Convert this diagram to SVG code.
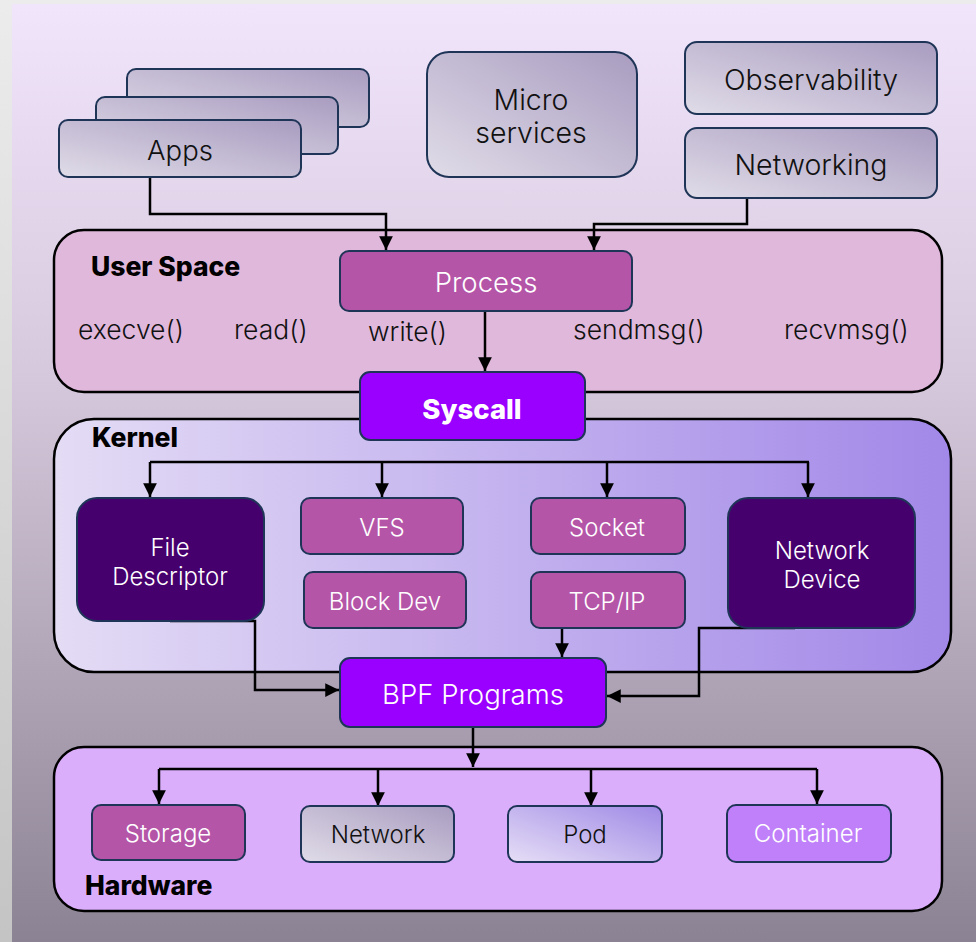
<svg xmlns="http://www.w3.org/2000/svg" width="976" height="942" viewBox="0 0 976 942">
  <defs>
    <linearGradient id="bgStrip" x1="0" y1="0" x2="0" y2="1">
      <stop offset="0" stop-color="#ececec"/>
      <stop offset="1" stop-color="#c4c4c4"/>
    </linearGradient>
    <linearGradient id="bgMain" x1="0" y1="0" x2="0" y2="1">
      <stop offset="0" stop-color="#f1e5fc"/>
      <stop offset="0.4" stop-color="#d6c8dc"/>
      <stop offset="0.75" stop-color="#aba0b2"/>
      <stop offset="1" stop-color="#8b8393"/>
    </linearGradient>
    <linearGradient id="greyBox" x1="0" y1="1" x2="1" y2="0">
      <stop offset="0" stop-color="#e0dce8"/>
      <stop offset="1" stop-color="#a99cc0"/>
    </linearGradient>
    <linearGradient id="lavBox" x1="0" y1="1" x2="1" y2="0">
      <stop offset="0" stop-color="#e6def6"/>
      <stop offset="1" stop-color="#a08ae6"/>
    </linearGradient>
    <linearGradient id="kernelFill" x1="0" y1="0" x2="1" y2="0">
      <stop offset="0" stop-color="#e4dcf5"/>
      <stop offset="1" stop-color="#a288e8"/>
    </linearGradient>
    <marker id="arrow" viewBox="0 0 10 10" refX="10" refY="5" markerWidth="5.5" markerHeight="5.5" orient="auto-start-reverse" markerUnits="strokeWidth">
      <path d="M0,0 L10,5 L0,10 z" fill="#000"/>
    </marker>
    <style>
      .panel { stroke: #000; stroke-width: 2.5; }
      .box { stroke: #1f3557; stroke-width: 2; }
      .magenta { fill: #b455a8; }
      .violet { fill: #9a00ff; }
      .deep { fill: #46006e; }
      .t { font-family: Inter, "Liberation Sans", sans-serif; font-weight: 300; text-anchor: middle; dominant-baseline: central; }
      .dark { fill: #111; }
      .light { fill: #fff; }
      .xl { font-size: 28.5px; }
      .lg { font-size: 27.5px; }
      .md { font-size: 24px; }
      .bold { font-weight: 800; }
      .head { font-family: Inter, "Liberation Sans", sans-serif; font-size: 26.5px; font-weight: 800; fill: #000; }
      .call { font-family: Inter, "Liberation Sans", sans-serif; font-weight: 300; font-size: 26.5px; fill: #111; }
      .wire { fill: none; stroke: #000; stroke-width: 2.5; }
    </style>
  </defs>

  <!-- backdrop -->
  <rect x="0" y="0" width="976" height="942" fill="url(#bgStrip)"/>
  <rect x="12" y="4" width="964" height="938" fill="url(#bgMain)"/>

  <!-- layer panels -->
  <g id="user-space">
    <rect class="panel" x="54" y="230" width="888" height="162" rx="30" fill="#e0b8dc"/>
    <text class="head" x="91" y="276">User Space</text>
    <text class="call" x="78" y="339">execve()</text>
    <text class="call" x="234" y="339">read()</text>
    <text class="call" x="368" y="341">write()</text>
    <text class="call" x="573" y="339">sendmsg()</text>
    <text class="call" x="784" y="339">recvmsg()</text>
  </g>
  <g id="kernel">
    <rect class="panel" x="54" y="419" width="897" height="253" rx="40" fill="url(#kernelFill)"/>
    <text class="head" x="92" y="447">Kernel</text>
  </g>
  <g id="hardware">
    <rect class="panel" x="54" y="747" width="888" height="164" rx="30" fill="#dbaefb"/>
    <text class="head" x="85" y="895">Hardware</text>
  </g>

  <!-- connectors -->
  <g id="connectors">
    <path class="wire" d="M150,177 V214 H386 V250" marker-end="url(#arrow)"/>
    <path class="wire" d="M747,198 V224 H594 V250" marker-end="url(#arrow)"/>
    <path class="wire" d="M485,311 V371" marker-end="url(#arrow)"/>
    <path class="wire" d="M150,462 H809"/>
    <path class="wire" d="M150,462 V497" marker-end="url(#arrow)"/>
    <path class="wire" d="M382,462 V497" marker-end="url(#arrow)"/>
    <path class="wire" d="M607,462 V497" marker-end="url(#arrow)"/>
    <path class="wire" d="M808,462 V497" marker-end="url(#arrow)"/>
    <path class="wire" d="M170,621 H255 V690 H339" marker-end="url(#arrow)"/>
    <path class="wire" d="M562,628 V657" marker-end="url(#arrow)"/>
    <path class="wire" d="M795,628 H699 V696 H607" marker-end="url(#arrow)"/>
    <path class="wire" d="M473,727 V767" marker-end="url(#arrow)"/>
    <path class="wire" d="M159,769 H817"/>
    <path class="wire" d="M159,769 V804" marker-end="url(#arrow)"/>
    <path class="wire" d="M378,769 V806" marker-end="url(#arrow)"/>
    <path class="wire" d="M591,769 V806" marker-end="url(#arrow)"/>
    <path class="wire" d="M817,769 V804" marker-end="url(#arrow)"/>
  </g>

  <!-- top row -->
  <g id="apps">
    <rect class="box" x="127" y="69" width="242" height="58" rx="9" fill="url(#greyBox)"/>
    <rect class="box" x="96" y="97" width="242" height="57" rx="9" fill="url(#greyBox)"/>
    <rect class="box" x="59" y="120" width="242" height="57" rx="9" fill="url(#greyBox)"/>
    <text class="t dark lg" x="180" y="150">Apps</text>
  </g>
  <g id="microservices">
    <rect class="box" x="427" y="52" width="210" height="125" rx="22" fill="url(#greyBox)"/>
    <text class="t dark xl" x="531" y="99">Micro</text>
    <text class="t dark xl" x="531" y="132">services</text>
  </g>
  <g id="observability">
    <rect class="box" x="685" y="42" width="252" height="72" rx="12" fill="url(#greyBox)"/>
    <text class="t dark xl" x="811" y="79">Observability</text>
  </g>
  <g id="networking">
    <rect class="box" x="685" y="128" width="252" height="70" rx="12" fill="url(#greyBox)"/>
    <text class="t dark xl" x="811" y="164">Networking</text>
  </g>

  <!-- user space -->
  <g id="process">
    <rect class="box magenta" x="340" y="251" width="292" height="60" rx="9"/>
    <text class="t light lg" x="486" y="282">Process</text>
  </g>
  <g id="syscall">
    <rect class="box violet" x="360" y="372" width="225" height="68" rx="10"/>
    <text class="t light lg bold" x="472" y="409">Syscall</text>
  </g>

  <!-- kernel -->
  <g id="file-descriptor">
    <rect class="box deep" x="77" y="498" width="187" height="123" rx="20"/>
    <text class="t light md" x="170" y="547">File</text>
    <text class="t light md" x="170" y="576">Descriptor</text>
  </g>
  <g id="vfs">
    <rect class="box magenta" x="301" y="498" width="162" height="56" rx="9"/>
    <text class="t light md" x="382" y="527">VFS</text>
  </g>
  <g id="block-dev">
    <rect class="box magenta" x="304" y="572" width="162" height="56" rx="9"/>
    <text class="t light md" x="385" y="601">Block Dev</text>
  </g>
  <g id="socket">
    <rect class="box magenta" x="531" y="498" width="154" height="56" rx="9"/>
    <text class="t light md" x="607" y="527">Socket</text>
  </g>
  <g id="tcp-ip">
    <rect class="box magenta" x="531" y="572" width="154" height="56" rx="9"/>
    <text class="t light md" x="607" y="601">TCP/IP</text>
  </g>
  <g id="network-device">
    <rect class="box deep" x="728" y="498" width="187" height="130" rx="20"/>
    <text class="t light md" x="822" y="550">Network</text>
    <text class="t light md" x="822" y="579">Device</text>
  </g>
  <g id="bpf-programs">
    <rect class="box violet" x="340" y="658" width="266" height="69" rx="10"/>
    <text class="t light lg" x="473" y="694">BPF Programs</text>
  </g>

  <!-- hardware -->
  <g id="storage">
    <rect class="box magenta" x="92" y="805" width="153" height="55" rx="9"/>
    <text class="t light md" x="168" y="833">Storage</text>
  </g>
  <g id="network">
    <rect class="box" x="301" y="806" width="153" height="56" rx="9" fill="url(#greyBox)"/>
    <text class="t dark md" x="378" y="834">Network</text>
  </g>
  <g id="pod">
    <rect class="box" x="508" y="806" width="154" height="56" rx="9" fill="url(#lavBox)"/>
    <text class="t dark md" x="585" y="834">Pod</text>
  </g>
  <g id="container">
    <rect class="box" x="727" y="805" width="164" height="57" rx="9" fill="#bf80fa"/>
    <text class="t light md" x="808" y="833">Container</text>
  </g>
</svg>
